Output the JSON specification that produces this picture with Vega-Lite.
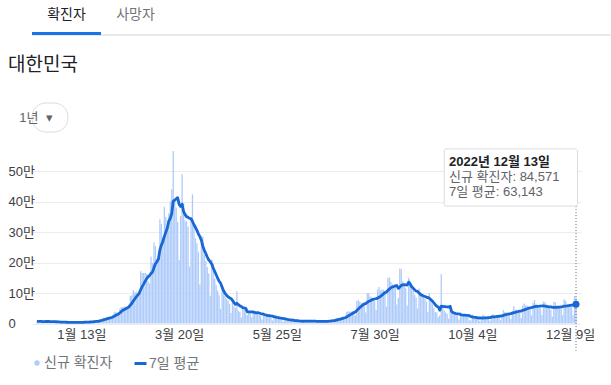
{
  "$schema": "https://vega.github.io/schema/vega-lite/v6.json",
  "padding": {"left": 8, "top": 7, "right": 10, "bottom": 5},
  "background": "white",
  "config": {
    "view": {"stroke": null},
    "font": "Arial, 'Liberation Sans', 'Noto Sans CJK KR', sans-serif",
    "axis": {"labelOverlap": false},
    "axisY": {"labelOverlap": false}
  },
  "spacing": 19,
  "resolve": {"scale": {"color": "independent", "stroke": "independent"}, "legend": {"color": "independent", "stroke": "independent"}},
  "vconcat": [
    {
      "width": 592,
      "height": 3,
      "data": {"values": [{"tab": "확진자", "selected": "yes"}, {"tab": "사망자", "selected": "no"}]},
      "layer": [
        {"mark": {"type": "rule", "color": "#e3e3e3", "strokeWidth": 1}, "encoding": {"y": {"value": "height"}}},
        {
          "transform": [{"filter": "datum.selected == 'yes'"}],
          "mark": {"type": "bar", "color": "#1a73e8"},
          "encoding": {"x": {"field": "tab", "type": "nominal", "scale": {"domain": ["확진자", "사망자"], "range": [0, 138], "paddingInner": 0, "paddingOuter": 0}, "axis": null}}
        },
        {
          "mark": {"type": "text", "fontSize": 14, "dy": -19, "baseline": "middle"},
          "encoding": {
            "x": {"field": "tab", "type": "nominal", "axis": null},
            "text": {"field": "tab"},
            "color": {"condition": {"test": "datum.selected == 'yes'", "value": "#202124"}, "value": "#70757a"}
          }
        }
      ]
    },
    {
      "spacing": 8,
      "resolve": {"scale": {"color": "independent", "stroke": "independent"}, "legend": {"color": "independent", "stroke": "independent"}},
      "vconcat": [
        {
          "width": 60,
          "height": 29,
          "title": {"text": "대한민국", "anchor": "start", "frame": "group", "fontSize": 19, "fontWeight": "normal", "color": "#202124", "offset": 28, "dx": -24},
          "data": {"values": [{"label": "1년\u00a0\u00a0▾"}]},
          "layer": [
            {"mark": {"type": "bar", "fill": "#ffffff", "stroke": "#dadce0", "strokeWidth": 1, "cornerRadius": 14, "xOffset": -24, "x2Offset": -24}, "encoding": {}},
            {"mark": {"type": "text", "fontSize": 13, "color": "#5f6368", "align": "center", "baseline": "middle", "dx": -26}, "encoding": {"text": {"field": "label"}}}
          ]
        },
        {
          "width": 549,
          "height": 182.5,
          "data": {"values": [
{"date":"2021-12-14","cases":7622,"avg":6690},{"date":"2021-12-15","cases":7435,"avg":6730},{"date":"2021-12-16","cases":7314,"avg":6770},{"date":"2021-12-17","cases":6236,"avg":6660},{"date":"2021-12-18","cases":5318,"avg":6460},{"date":"2021-12-19","cases":5202,"avg":6370},{"date":"2021-12-20","cases":7456,"avg":6640},
{"date":"2021-12-21","cases":7455,"avg":6630},{"date":"2021-12-22","cases":6919,"avg":6560},{"date":"2021-12-23","cases":6233,"avg":6400},{"date":"2021-12-24","cases":5842,"avg":6340},{"date":"2021-12-25","cases":4207,"avg":6190},{"date":"2021-12-26","cases":3865,"avg":6000},{"date":"2021-12-27","cases":5409,"avg":5700},
{"date":"2021-12-28","cases":5037,"avg":5340},{"date":"2021-12-29","cases":4875,"avg":5060},{"date":"2021-12-30","cases":4416,"avg":4800},{"date":"2021-12-31","cases":3833,"avg":4510},{"date":"2022-01-01","cases":3129,"avg":4360},{"date":"2022-01-02","cases":3024,"avg":4230},{"date":"2022-01-03","cases":4443,"avg":4090},
{"date":"2022-01-04","cases":4126,"avg":3960},{"date":"2022-01-05","cases":4444,"avg":3890},{"date":"2022-01-06","cases":3717,"avg":3790},{"date":"2022-01-07","cases":3511,"avg":3740},{"date":"2022-01-08","cases":3376,"avg":3790},{"date":"2022-01-09","cases":3005,"avg":3790},{"date":"2022-01-10","cases":4388,"avg":3790},
{"date":"2022-01-11","cases":4167,"avg":3800},{"date":"2022-01-12","cases":4542,"avg":3810},{"date":"2022-01-13","cases":4422,"avg":3910},{"date":"2022-01-14","cases":4194,"avg":4010},{"date":"2022-01-15","cases":3859,"avg":4090},{"date":"2022-01-16","cases":4070,"avg":4240},{"date":"2022-01-17","cases":5804,"avg":4440},
{"date":"2022-01-18","cases":5805,"avg":4670},{"date":"2022-01-19","cases":6603,"avg":4970},{"date":"2022-01-20","cases":6769,"avg":5310},{"date":"2022-01-21","cases":7009,"avg":5710},{"date":"2022-01-22","cases":7630,"avg":6240},{"date":"2022-01-23","cases":7513,"avg":6730},{"date":"2022-01-24","cases":8571,"avg":7130},
{"date":"2022-01-25","cases":13012,"avg":8160},{"date":"2022-01-26","cases":14518,"avg":9290},{"date":"2022-01-27","cases":16096,"avg":10610},{"date":"2022-01-28","cases":17542,"avg":12110},{"date":"2022-01-29","cases":17528,"avg":13530},{"date":"2022-01-30","cases":18342,"avg":15070},{"date":"2022-01-31","cases":20270,"avg":16740},
{"date":"2022-02-01","cases":20908,"avg":17870},{"date":"2022-02-02","cases":22907,"avg":19070},{"date":"2022-02-03","cases":27443,"avg":20690},{"date":"2022-02-04","cases":36362,"avg":23390},{"date":"2022-02-05","cases":38691,"avg":26410},{"date":"2022-02-06","cases":35286,"avg":28840},{"date":"2022-02-07","cases":36719,"avg":31190},
{"date":"2022-02-08","cases":49567,"avg":35290},{"date":"2022-02-09","cases":54122,"avg":39740},{"date":"2022-02-10","cases":53926,"avg":43530},{"date":"2022-02-11","cases":54941,"avg":46170},{"date":"2022-02-12","cases":56431,"avg":48700},{"date":"2022-02-13","cases":53695,"avg":51330},{"date":"2022-02-14","cases":57177,"avg":54260},
{"date":"2022-02-15","cases":90443,"avg":60090},{"date":"2022-02-16","cases":93135,"avg":65660},{"date":"2022-02-17","cases":109831,"avg":73640},{"date":"2022-02-18","cases":102211,"avg":80400},{"date":"2022-02-19","cases":104829,"avg":87310},{"date":"2022-02-20","cases":95362,"avg":93270},{"date":"2022-02-21","cases":99573,"avg":99330},
{"date":"2022-02-22","cases":171452,"avg":110910},{"date":"2022-02-23","cases":165890,"avg":121310},{"date":"2022-02-24","cases":166209,"avg":129370},{"date":"2022-02-25","cases":166722,"avg":138590},{"date":"2022-02-26","cases":163566,"avg":146990},{"date":"2022-02-27","cases":139626,"avg":153300},{"date":"2022-02-28","cases":131763,"avg":157900},
{"date":"2022-03-01","cases":219241,"avg":164710},{"date":"2022-03-02","cases":198803,"avg":169410},{"date":"2022-03-03","cases":266853,"avg":183800},{"date":"2022-03-04","cases":254327,"avg":196310},{"date":"2022-03-05","cases":210716,"avg":203040},{"date":"2022-03-06","cases":202721,"avg":212060},{"date":"2022-03-07","cases":342446,"avg":242140},
{"date":"2022-03-08","cases":327549,"avg":257610},{"date":"2022-03-09","cases":282987,"avg":269640},{"date":"2022-03-10","cases":383665,"avg":286330},{"date":"2022-03-11","cases":350190,"avg":300030},{"date":"2022-03-12","cases":309790,"avg":314190},{"date":"2022-03-13","cases":362338,"avg":336990},{"date":"2022-03-14","cases":400741,"avg":345310},
{"date":"2022-03-15","cases":441423,"avg":361590},{"date":"2022-03-16","cases":567000,"avg":402160},{"date":"2022-03-17","cases":407017,"avg":405490},{"date":"2022-03-18","cases":381454,"avg":409960},{"date":"2022-03-19","cases":334708,"avg":413510},{"date":"2022-03-20","cases":209169,"avg":391640},{"date":"2022-03-21","cases":353980,"avg":384970},
{"date":"2022-03-22","cases":490881,"avg":392040},{"date":"2022-03-23","cases":395598,"avg":367560},{"date":"2022-03-24","cases":339514,"avg":357910},{"date":"2022-03-25","cases":335580,"avg":351360},{"date":"2022-03-26","cases":318130,"avg":348990},{"date":"2022-03-27","cases":187213,"avg":345840},{"date":"2022-03-28","cases":347554,"avg":344930},
{"date":"2022-03-29","cases":424641,"avg":335460},{"date":"2022-03-30","cases":320743,"avg":324760},{"date":"2022-03-31","cases":280273,"avg":316300},{"date":"2022-04-01","cases":264171,"avg":306100},{"date":"2022-04-02","cases":234301,"avg":294130},{"date":"2022-04-03","cases":127892,"avg":285660},{"date":"2022-04-04","cases":266135,"avg":274010},
{"date":"2022-04-05","cases":286294,"avg":254260},{"date":"2022-04-06","cases":224820,"avg":240560},{"date":"2022-04-07","cases":205333,"avg":229840},{"date":"2022-04-08","cases":185566,"avg":218610},{"date":"2022-04-09","cases":164481,"avg":208640},{"date":"2022-04-10","cases":90928,"avg":203360},{"date":"2022-04-11","cases":210755,"avg":195460},
{"date":"2022-04-12","cases":195419,"avg":182470},{"date":"2022-04-13","cases":148443,"avg":171560},{"date":"2022-04-14","cases":125846,"avg":160200},{"date":"2022-04-15","cases":107916,"avg":149100},{"date":"2022-04-16","cases":93001,"avg":138890},{"date":"2022-04-17","cases":47743,"avg":132710},{"date":"2022-04-18","cases":118504,"avg":119530},
{"date":"2022-04-19","cases":111319,"avg":107510},{"date":"2022-04-20","cases":90867,"avg":99300},{"date":"2022-04-21","cases":81058,"avg":92910},{"date":"2022-04-22","cases":75449,"avg":88270},{"date":"2022-04-23","cases":64725,"avg":84230},{"date":"2022-04-24","cases":34370,"avg":82330},{"date":"2022-04-25","cases":76787,"avg":76370},
{"date":"2022-04-26","cases":57464,"avg":68690},{"date":"2022-04-27","cases":50568,"avg":62930},{"date":"2022-04-28","cases":106000,"avg":66490},{"date":"2022-04-29","cases":42296,"avg":61760},{"date":"2022-04-30","cases":37771,"avg":57910},{"date":"2022-05-01","cases":20084,"avg":55870},{"date":"2022-05-02","cases":51131,"avg":52200},
{"date":"2022-05-03","cases":49064,"avg":51000},{"date":"2022-05-04","cases":42296,"avg":49810},{"date":"2022-05-05","cases":26714,"avg":38490},{"date":"2022-05-06","cases":40064,"avg":38170},{"date":"2022-05-07","cases":38046,"avg":38200},{"date":"2022-05-08","cases":20601,"avg":38270},{"date":"2022-05-09","cases":43925,"avg":37240},
{"date":"2022-05-10","cases":41746,"avg":36190},{"date":"2022-05-11","cases":35906,"avg":35270},{"date":"2022-05-12","cases":32451,"avg":36100},{"date":"2022-05-13","cases":29581,"avg":34600},{"date":"2022-05-14","cases":25434,"avg":32800},{"date":"2022-05-15","cases":13296,"avg":31760},{"date":"2022-05-16","cases":35117,"avg":30500},
{"date":"2022-05-17","cases":29120,"avg":28700},{"date":"2022-05-18","cases":26979,"avg":27430},{"date":"2022-05-19","cases":23956,"avg":26210},{"date":"2022-05-20","cases":25125,"avg":25570},{"date":"2022-05-21","cases":20325,"avg":24840},{"date":"2022-05-22","cases":9975,"avg":24370},{"date":"2022-05-23","cases":23945,"avg":22770},
{"date":"2022-05-24","cases":20319,"avg":21510},{"date":"2022-05-25","cases":18809,"avg":20340},{"date":"2022-05-26","cases":17195,"avg":19370},{"date":"2022-05-27","cases":16584,"avg":18160},{"date":"2022-05-28","cases":14397,"avg":17310},{"date":"2022-05-29","cases":6141,"avg":16760},{"date":"2022-05-30","cases":17183,"avg":15800},
{"date":"2022-05-31","cases":15000,"avg":15040},{"date":"2022-06-01","cases":9900,"avg":13770},{"date":"2022-06-02","cases":12000,"avg":13030},{"date":"2022-06-03","cases":10000,"avg":12090},{"date":"2022-06-04","cases":9800,"avg":11430},{"date":"2022-06-05","cases":5000,"avg":11270},{"date":"2022-06-06","cases":4500,"avg":9460},
{"date":"2022-06-07","cases":13300,"avg":9210},{"date":"2022-06-08","cases":9500,"avg":9160},{"date":"2022-06-09","cases":7500,"avg":8510},{"date":"2022-06-10","cases":7200,"avg":8110},{"date":"2022-06-11","cases":6100,"avg":7590},{"date":"2022-06-12","cases":3800,"avg":7410},{"date":"2022-06-13","cases":9400,"avg":8110},
{"date":"2022-06-14","cases":12700,"avg":8030},{"date":"2022-06-15","cases":7900,"avg":7800},{"date":"2022-06-16","cases":7400,"avg":7790},{"date":"2022-06-17","cases":7100,"avg":7770},{"date":"2022-06-18","cases":6100,"avg":7770},{"date":"2022-06-19","cases":3400,"avg":7710},{"date":"2022-06-20","cases":9300,"avg":7700},
{"date":"2022-06-21","cases":9500,"avg":7240},{"date":"2022-06-22","cases":7500,"avg":7190},{"date":"2022-06-23","cases":7200,"avg":7160},{"date":"2022-06-24","cases":6200,"avg":7030},{"date":"2022-06-25","cases":6200,"avg":7040},{"date":"2022-06-26","cases":3400,"avg":7040},{"date":"2022-06-27","cases":9900,"avg":7130},
{"date":"2022-06-28","cases":10500,"avg":7270},{"date":"2022-06-29","cases":9600,"avg":7570},{"date":"2022-06-30","cases":10700,"avg":8070},{"date":"2022-07-01","cases":10400,"avg":8670},{"date":"2022-07-02","cases":10000,"avg":9210},{"date":"2022-07-03","cases":6200,"avg":9610},{"date":"2022-07-04","cases":18100,"avg":10790},
{"date":"2022-07-05","cases":19400,"avg":12060},{"date":"2022-07-06","cases":18500,"avg":13330},{"date":"2022-07-07","cases":19300,"avg":14560},{"date":"2022-07-08","cases":20400,"avg":15990},{"date":"2022-07-09","cases":20400,"avg":17470},{"date":"2022-07-10","cases":12700,"avg":18400},{"date":"2022-07-11","cases":37300,"avg":21140},
{"date":"2022-07-12","cases":40300,"avg":24130},{"date":"2022-07-13","cases":39200,"avg":27090},{"date":"2022-07-14","cases":38900,"avg":29890},{"date":"2022-07-15","cases":41300,"avg":32870},{"date":"2022-07-16","cases":40300,"avg":35710},{"date":"2022-07-17","cases":26300,"avg":37660},{"date":"2022-07-18","cases":73600,"avg":42840},
{"date":"2022-07-19","cases":76400,"avg":48000},{"date":"2022-07-20","cases":71200,"avg":52570},{"date":"2022-07-21","cases":68600,"avg":56810},{"date":"2022-07-22","cases":68500,"avg":60700},{"date":"2022-07-23","cases":65400,"avg":64290},{"date":"2022-07-24","cases":35900,"avg":65660},{"date":"2022-07-25","cases":99300,"avg":69330},
{"date":"2022-07-26","cases":100300,"avg":72740},{"date":"2022-07-27","cases":88400,"avg":75200},{"date":"2022-07-28","cases":85300,"avg":77590},{"date":"2022-07-29","cases":81000,"avg":79370},{"date":"2022-07-30","cases":73600,"avg":80540},{"date":"2022-07-31","cases":44700,"avg":81800},{"date":"2022-08-01","cases":111800,"avg":83590},
{"date":"2022-08-02","cases":119900,"avg":86390},{"date":"2022-08-03","cases":107900,"avg":89170},{"date":"2022-08-04","cases":112900,"avg":93110},{"date":"2022-08-05","cases":110700,"avg":97360},{"date":"2022-08-06","cases":105500,"avg":101910},{"date":"2022-08-07","cases":55300,"avg":103430},{"date":"2022-08-08","cases":149900,"avg":108870},
{"date":"2022-08-09","cases":151800,"avg":113430},{"date":"2022-08-10","cases":137200,"avg":117610},{"date":"2022-08-11","cases":128700,"avg":119870},{"date":"2022-08-12","cases":124500,"avg":121840},{"date":"2022-08-13","cases":119600,"avg":123860},{"date":"2022-08-14","cases":62100,"avg":124830},{"date":"2022-08-15","cases":84100,"avg":115430},
{"date":"2022-08-16","cases":180800,"avg":119570},{"date":"2022-08-17","cases":178600,"avg":125490},{"date":"2022-08-18","cases":138800,"avg":126930},{"date":"2022-08-19","cases":129400,"avg":127630},{"date":"2022-08-20","cases":115600,"avg":127060},{"date":"2022-08-21","cases":59000,"avg":126610},{"date":"2022-08-22","cases":150800,"avg":136140},
{"date":"2022-08-23","cases":139300,"avg":130210},{"date":"2022-08-24","cases":113300,"avg":120890},{"date":"2022-08-25","cases":107000,"avg":116340},{"date":"2022-08-26","cases":93300,"avg":111190},{"date":"2022-08-27","cases":85500,"avg":106890},{"date":"2022-08-28","cases":49400,"avg":105510},{"date":"2022-08-29","cases":115400,"avg":100460},
{"date":"2022-08-30","cases":104000,"avg":95410},{"date":"2022-08-31","cases":95600,"avg":92890},{"date":"2022-09-01","cases":89600,"avg":90400},{"date":"2022-09-02","cases":81600,"avg":88730},{"date":"2022-09-03","cases":72100,"avg":86810},{"date":"2022-09-04","cases":37400,"avg":85100},{"date":"2022-09-05","cases":99800,"avg":82870},
{"date":"2022-09-06","cases":72000,"avg":78300},{"date":"2022-09-07","cases":63000,"avg":73640},{"date":"2022-09-08","cases":49900,"avg":67970},{"date":"2022-09-09","cases":38000,"avg":61740},{"date":"2022-09-10","cases":36000,"avg":56590},{"date":"2022-09-11","cases":21000,"avg":54240},{"date":"2022-09-12","cases":27000,"avg":43840},
{"date":"2022-09-13","cases":162000,"avg":56700},{"date":"2022-09-14","cases":60000,"avg":56270},{"date":"2022-09-15","cases":43000,"avg":55290},{"date":"2022-09-16","cases":36000,"avg":55000},{"date":"2022-09-17","cases":31000,"avg":54290},{"date":"2022-09-18","cases":16000,"avg":53570},{"date":"2022-09-19","cases":50000,"avg":56860},
{"date":"2022-09-20","cases":40000,"avg":39430},{"date":"2022-09-21","cases":34000,"avg":35710},{"date":"2022-09-22","cases":30000,"avg":33860},{"date":"2022-09-23","cases":28000,"avg":32710},{"date":"2022-09-24","cases":25000,"avg":31860},{"date":"2022-09-25","cases":13000,"avg":31430},{"date":"2022-09-26","cases":37000,"avg":29570},
{"date":"2022-09-27","cases":33000,"avg":28570},{"date":"2022-09-28","cases":29000,"avg":27860},{"date":"2022-09-29","cases":27000,"avg":27430},{"date":"2022-09-30","cases":25000,"avg":27000},{"date":"2022-10-01","cases":22000,"avg":26570},{"date":"2022-10-02","cases":10000,"avg":26140},{"date":"2022-10-03","cases":11000,"avg":22430},
{"date":"2022-10-04","cases":30000,"avg":22000},{"date":"2022-10-05","cases":21000,"avg":20860},{"date":"2022-10-06","cases":22000,"avg":20140},{"date":"2022-10-07","cases":19000,"avg":19290},{"date":"2022-10-08","cases":16000,"avg":18430},{"date":"2022-10-09","cases":8000,"avg":18140},{"date":"2022-10-10","cases":11000,"avg":18140},
{"date":"2022-10-11","cases":29000,"avg":18000},{"date":"2022-10-12","cases":26000,"avg":18710},{"date":"2022-10-13","cases":22000,"avg":18710},{"date":"2022-10-14","cases":20000,"avg":18860},{"date":"2022-10-15","cases":18000,"avg":19140},{"date":"2022-10-16","cases":9000,"avg":19290},{"date":"2022-10-17","cases":26000,"avg":21430},
{"date":"2022-10-18","cases":31000,"avg":21710},{"date":"2022-10-19","cases":28000,"avg":22000},{"date":"2022-10-20","cases":26000,"avg":22570},{"date":"2022-10-21","cases":25000,"avg":23290},{"date":"2022-10-22","cases":22000,"avg":23860},{"date":"2022-10-23","cases":11000,"avg":24140},{"date":"2022-10-24","cases":31000,"avg":24860},
{"date":"2022-10-25","cases":44000,"avg":26710},{"date":"2022-10-26","cases":38000,"avg":28140},{"date":"2022-10-27","cases":36000,"avg":29570},{"date":"2022-10-28","cases":33000,"avg":30710},{"date":"2022-10-29","cases":29000,"avg":31710},{"date":"2022-10-30","cases":16000,"avg":32430},{"date":"2022-10-31","cases":41000,"avg":33860},
{"date":"2022-11-01","cases":57000,"avg":35710},{"date":"2022-11-02","cases":46000,"avg":36860},{"date":"2022-11-03","cases":45000,"avg":38140},{"date":"2022-11-04","cases":42000,"avg":39430},{"date":"2022-11-05","cases":37000,"avg":40570},{"date":"2022-11-06","cases":19000,"avg":41000},{"date":"2022-11-07","cases":58000,"avg":43430},
{"date":"2022-11-08","cases":66000,"avg":44710},{"date":"2022-11-09","cases":59000,"avg":46570},{"date":"2022-11-10","cases":59000,"avg":48570},{"date":"2022-11-11","cases":54000,"avg":50290},{"date":"2022-11-12","cases":46000,"avg":51570},{"date":"2022-11-13","cases":26000,"avg":52570},{"date":"2022-11-14","cases":68000,"avg":54000},
{"date":"2022-11-15","cases":77000,"avg":55570},{"date":"2022-11-16","cases":65000,"avg":56430},{"date":"2022-11-17","cases":60000,"avg":56570},{"date":"2022-11-18","cases":56000,"avg":56860},{"date":"2022-11-19","cases":50000,"avg":57430},{"date":"2022-11-20","cases":28000,"avg":57710},{"date":"2022-11-21","cases":72000,"avg":58290},
{"date":"2022-11-22","cases":71000,"avg":57430},{"date":"2022-11-23","cases":60000,"avg":56710},{"date":"2022-11-24","cases":53000,"avg":55710},{"date":"2022-11-25","cases":51000,"avg":55000},{"date":"2022-11-26","cases":45000,"avg":54290},{"date":"2022-11-27","cases":22000,"avg":53430},{"date":"2022-11-28","cases":71000,"avg":53290},
{"date":"2022-11-29","cases":70000,"avg":53140},{"date":"2022-11-30","cases":60000,"avg":53140},{"date":"2022-12-01","cases":57000,"avg":53710},{"date":"2022-12-02","cases":54000,"avg":54140},{"date":"2022-12-03","cases":50000,"avg":54860},{"date":"2022-12-04","cases":27000,"avg":55570},{"date":"2022-12-05","cases":80000,"avg":56860},
{"date":"2022-12-06","cases":74000,"avg":57430},{"date":"2022-12-07","cases":64000,"avg":58000},{"date":"2022-12-08","cases":62000,"avg":58710},{"date":"2022-12-09","cases":60000,"avg":59570},{"date":"2022-12-10","cases":54000,"avg":60140},{"date":"2022-12-11","cases":27000,"avg":60140},{"date":"2022-12-12","cases":90400,"avg":61630},
{"date":"2022-12-13","cases":84571,"avg":63143}
          ]},
          "layer": [
            {
              "mark": {"type": "bar", "width": 1.3},
              "encoding": {
                "x": {
                  "field": "date", "type": "temporal",
                  "scale": {"type": "utc", "nice": false, "domain": [{"year": 2021, "month": 12, "date": 14, "utc": true}, {"year": 2022, "month": 12, "date": 13, "utc": true}]},
                  "axis": {
                    "title": null, "ticks": false, "domain": false, "grid": false, "tickCount": 20,
                    "values": [{"year": 2022, "month": 1, "date": 13, "utc": true}, {"year": 2022, "month": 3, "date": 20, "utc": true}, {"year": 2022, "month": 5, "date": 25, "utc": true}, {"year": 2022, "month": 7, "date": 30, "utc": true}, {"year": 2022, "month": 10, "date": 4, "utc": true}, {"year": 2022, "month": 12, "date": 9, "utc": true}],
                    "labelExpr": "utcFormat(datum.value, '%-m월 %-d일')",
                    "labelFontSize": 13, "labelColor": "#3c4043", "labelPadding": 5,
                    "labelFlush": false, "labelOverlap": false, "labelBound": false
                  }
                },
                "y": {
                  "field": "cases", "type": "quantitative",
                  "scale": {"domain": [0, 600000], "nice": false},
                  "axis": {
                    "title": null, "ticks": false, "domain": false, "grid": true, "gridColor": "#ececec", "tickCount": 12,
                    "values": [0, 100000, 200000, 300000, 400000, 500000],
                    "labelExpr": "datum.value == 0 ? '0' : (datum.value / 10000) + '만'",
                    "labelAlign": "left", "labelPadding": 24, "labelBaseline": "middle",
                    "labelFontSize": 13, "labelColor": "#3c4043", "labelOverlap": false
                  }
                },
                "color": {
                  "datum": "신규 확진자",
                  "scale": {"range": ["#aecbfa"]},
                  "legend": {"orient": "none", "legendX": -2, "legendY": 215, "title": null, "symbolType": "circle", "symbolSize": 28, "labelFontSize": 14, "labelColor": "#70757a", "labelOffset": 0, "padding": 0}
                }
              }
            },
            {
              "mark": {"type": "line", "strokeWidth": 2.8, "strokeJoin": "round"},
              "encoding": {
                "x": {"field": "date", "type": "temporal"},
                "y": {
                  "field": "avg", "type": "quantitative",
                  "axis": {
                    "title": null, "ticks": false, "domain": false, "grid": true, "gridColor": "#ececec", "tickCount": 12,
                    "values": [0, 100000, 200000, 300000, 400000, 500000],
                    "labelExpr": "datum.value == 0 ? '0' : (datum.value / 10000) + '만'",
                    "labelAlign": "left", "labelPadding": 24, "labelBaseline": "middle",
                    "labelFontSize": 13, "labelColor": "#3c4043", "labelOverlap": false
                  }
                },
                "stroke": {
                  "datum": "7일 평균",
                  "scale": {"range": ["#1967d2"]},
                  "legend": {"orient": "none", "legendX": 101, "legendY": 215, "title": null, "symbolType": "stroke", "symbolSize": 144, "symbolStrokeWidth": 3, "labelFontSize": 14, "labelColor": "#70757a", "labelOffset": 1, "padding": 0}
                }
              }
            },
            {
              "data": {"values": [{"date": "2022-12-13", "avg": 63143, "head": "2022년 12월 13일", "body": ["신규 확진자: 84,571", "7일 평균: 63,143"]}]},
              "layer": [
                {
                  "mark": {"type": "rule", "strokeDash": [1, 2], "color": "#666666", "strokeWidth": 1},
                  "encoding": {"x": {"field": "date", "type": "temporal"}, "y": {"datum": 386000}, "y2": {"datum": -90000}}
                },
                {
                  "mark": {"type": "point", "filled": true, "size": 50, "color": "#1967d2", "opacity": 1},
                  "encoding": {"x": {"field": "date", "type": "temporal"}, "y": {"field": "avg", "type": "quantitative"}}
                },
                {
                  "mark": {"type": "rect", "fill": "#000000", "opacity": 0.08, "cornerRadius": 3, "xOffset": 1, "yOffset": 2},
                  "encoding": {
                    "x": {"datum": {"year": 2022, "month": 9, "date": 15, "utc": true}, "type": "temporal"},
                    "x2": {"datum": {"year": 2022, "month": 12, "date": 14, "utc": true}},
                    "y": {"datum": 574000}, "y2": {"datum": 386000}
                  }
                },
                {
                  "mark": {"type": "rect", "fill": "#ffffff", "stroke": "#dadce0", "strokeWidth": 1, "cornerRadius": 2},
                  "encoding": {
                    "x": {"datum": {"year": 2022, "month": 9, "date": 15, "utc": true}, "type": "temporal"},
                    "x2": {"datum": {"year": 2022, "month": 12, "date": 14, "utc": true}},
                    "y": {"datum": 574000}, "y2": {"datum": 386000}
                  }
                },
                {
                  "mark": {"type": "text", "align": "left", "baseline": "middle", "dx": -127, "fontSize": 13, "fontWeight": "bold", "color": "#202124"},
                  "encoding": {"x": {"field": "date", "type": "temporal"}, "y": {"datum": 531000}, "text": {"field": "head"}}
                },
                {
                  "mark": {"type": "text", "align": "left", "baseline": "middle", "dx": -127, "fontSize": 13, "lineHeight": 15, "color": "#5f6368"},
                  "encoding": {"x": {"field": "date", "type": "temporal"}, "y": {"datum": 481600}, "text": {"field": "body"}}
                }
              ]
            }
          ]
        }
      ]
    }
  ]
}
